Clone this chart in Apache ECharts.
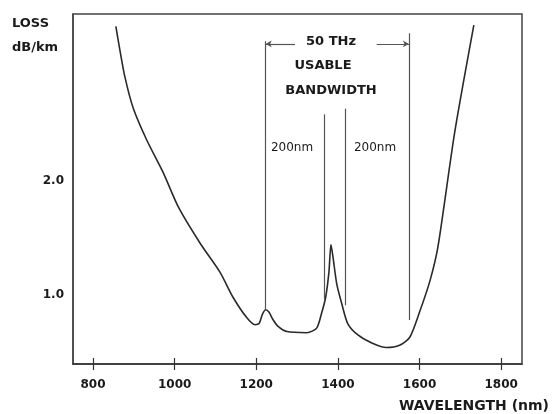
<!DOCTYPE html>
<html>
<head>
<meta charset="utf-8">
<script src="https://cdn.jsdelivr.net/npm/echarts@6/dist/echarts.min.js"></script>
<style>
  html, body { margin: 0; padding: 0; background: #fff; }
  #chart { width: 552px; height: 414px; }
</style>
</head>
<body>
<div id="chart"></div>
<script>
// fibre loss curve
var wavelength = [856, 866, 878, 898, 931, 972, 1009, 1062, 1111, 1143, 1177, 1197, 1207, 1215, 1223, 1231, 1240, 1252, 1275, 1324, 1348, 1360, 1370, 1378, 1383, 1388, 1397, 1409, 1424, 1449, 1483, 1519, 1551, 1576, 1600, 1626, 1645, 1686, 1733];
var loss = [3.35, 3.14, 2.91, 2.64, 2.36, 2.07, 1.77, 1.455, 1.2, 0.98, 0.8, 0.74, 0.75, 0.83, 0.87, 0.85, 0.79, 0.73, 0.68, 0.67, 0.71, 0.84, 0.98, 1.2, 1.44, 1.33, 1.1, 0.93, 0.75, 0.65, 0.58, 0.54, 0.56, 0.63, 0.85, 1.13, 1.42, 2.42, 3.36];

var xTicks = [800, 1000, 1200, 1400, 1600, 1800];
var yTicks = [1, 2];

// vertical marker lines (nm, bottom, top)
var markerNm = [1223, 1366, 1418, 1574];
var markerBottom = [0.87, 0.96, 0.91, 0.78];
var markerTop = [3.22, 2.58, 2.63, 3.29];
// the 50 THz span arrow, broken where the text sits
var spanY = 3.196;
var spanGap = [1295, 1495];

var myChart = echarts.init(document.getElementById("chart"));

var lines = [];
for (var i = 0; i < markerNm.length; i++) {
  lines.push([{ coord: [markerNm[i], markerBottom[i]] }, { coord: [markerNm[i], markerTop[i]] }]);
}
lines.push([
  { coord: [markerNm[0], spanY], symbol: "arrow", symbolSize: [5, 6] },
  { coord: [spanGap[0], spanY], symbol: "none" }
]);
lines.push([
  { coord: [spanGap[1], spanY], symbol: "none" },
  { coord: [markerNm[3], spanY], symbol: "arrow", symbolSize: [5, 6] }
]);

var txt = function (text, x, y, size, weight, align) {
  return {
    type: "text",
    x: x,
    y: y,
    style: {
      text: text,
      fill: "#1a1a1a",
      font: (weight || "bold") + " " + size + "px 'DejaVu Sans'",
      align: align || "center",
      verticalAlign: "middle"
    }
  };
};

var axisFont = { fontFamily: "DejaVu Sans", fontWeight: "bold", fontSize: 12, color: "#1a1a1a" };

var option = {
  animation: false,
  grid: {
    left: 73, right: 30, top: 14, bottom: 50,
    show: true, borderColor: "#444", borderWidth: 1.5, backgroundColor: "transparent"
  },
  xAxis: [
    {
      type: "value", min: 751, max: 1851,
      axisLine: { show: true, lineStyle: { color: "#333", width: 1.5 } },
      axisTick: { show: true, inside: false, length: 6, customValues: xTicks, lineStyle: { color: "#333", width: 1.2 } },
      axisLabel: Object.assign({
        margin: 15, customValues: xTicks,
        formatter: function (v) { return String(v); }
      }, axisFont),
      splitLine: { show: false }
    },
    {
      type: "value", min: 751, max: 1851, position: "bottom",
      axisLine: { show: false },
      axisTick: { show: true, inside: true, length: 6, customValues: xTicks, lineStyle: { color: "#333", width: 1.2 } },
      axisLabel: { show: false },
      splitLine: { show: false }
    }
  ],
  yAxis: {
    type: "value", min: 0.396, max: 3.458,
    axisLine: { show: true, lineStyle: { color: "#444", width: 1.5 } },
    axisTick: { show: false },
    axisLabel: Object.assign({
      margin: 9, customValues: yTicks,
      formatter: function (v) { return v.toFixed(1); }
    }, axisFont),
    splitLine: { show: false }
  },
  series: [
    {
      type: "line",
      data: wavelength.map(function (w, k) { return [w, loss[k]]; }),
      smooth: 0.25,
      symbol: "none",
      lineStyle: { color: "#2a2a2a", width: 1.6 },
      markLine: {
        silent: true,
        symbol: ["none", "none"],
        label: { show: false },
        lineStyle: { color: "#555", width: 1.2, type: "solid" },
        emphasis: { disabled: true },
        data: lines
      }
    }
  ],
  graphic: [
    txt("LOSS", 12, 24, 13, "bold", "left"),
    txt("dB/km", 12, 48, 13, "bold", "left"),
    txt("50 THz", 331, 42, 13),
    txt("USABLE", 323, 66, 13),
    txt("BANDWIDTH", 331, 91, 13),
    txt("200nm", 292, 148, 12, "normal"),
    txt("200nm", 375, 148, 12, "normal"),
    txt("WAVELENGTH (nm)", 549, 406, 14, "bold", "right")
  ]
};

myChart.setOption(option);
</script>
</body>
</html>
